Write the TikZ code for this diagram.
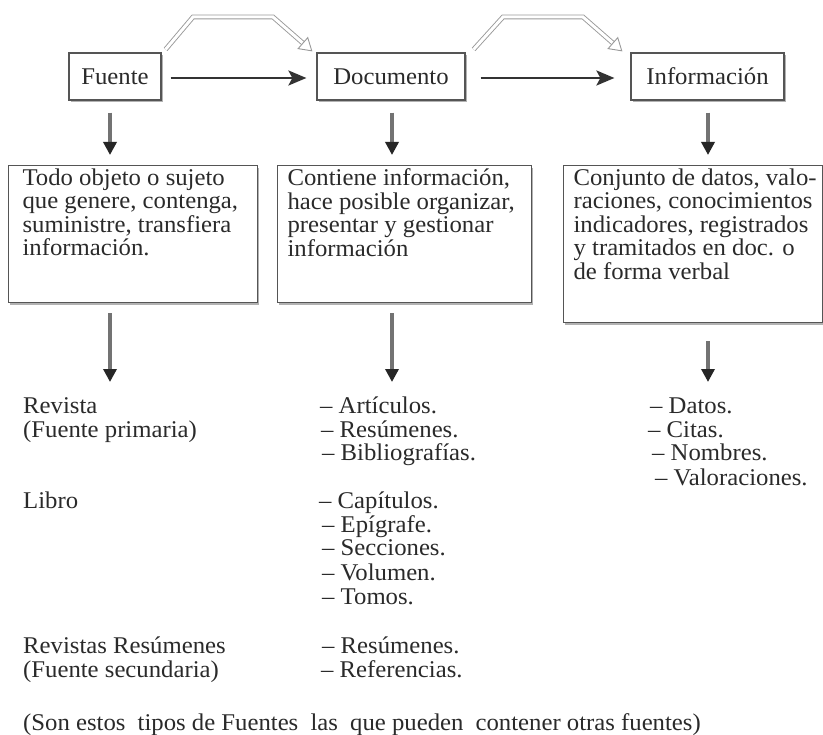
\documentclass[tikz,border=0pt]{standalone}
\usepackage{fontspec}
\setmainfont{Liberation Serif}[FakeStretch=1.03]
\usetikzlibrary{arrows.meta,shadows,calc}
\definecolor{txt}{HTML}{2A2A2A}
\definecolor{boxline}{HTML}{555555}
\tikzset{
  lbl/.style={text=txt,font=\fontsize{24bp}{23.5bp}\selectfont,inner sep=0pt},
  item/.style={lbl,anchor=base west},
  topbox/.style={lbl,draw=boxline,line width=1.2bp,fill=white,minimum height=47bp,
     drop shadow={shadow xshift=1.5bp,shadow yshift=-2bp,fill=black!30,opacity=1}},
  descbox/.style={lbl,draw=boxline,line width=1.2bp,fill=white,anchor=north west,align=left,
     drop shadow={shadow xshift=1.5bp,shadow yshift=-2bp,fill=black!30,opacity=1}},
  harr/.style={draw=black!80,line width=2.5bp,-{Stealth[length=18bp,width=15bp,inset=4bp]}},
  darr/.style={draw=black!55,line width=3.5bp,-{Triangle[length=13bp,width=13bp,color=black!85]}},
  hollow/.style={draw=black!40,double=white,line width=0.9bp,double distance=3bp,
     -{Triangle[open,length=13bp,width=16bp]}}
}
\begin{document}
\begin{tikzpicture}[x=1bp,y=-1bp]
\useasboundingbox[fill=white] (0,0) rectangle (823,735);
% top boxes
\node[topbox,minimum width=92bp] (fuente) at (115,76.5) {Fuente};
\node[topbox,minimum width=148bp] (doc) at (391,76.5) {Documento};
\node[topbox,minimum width=153bp] (info) at (707.5,76.5) {Información};
% horizontal arrows
\draw[harr] ($(fuente.east)+(9,1.5)$) -- ($(doc.west)+(-10,1.5)$);
\draw[harr] ($(doc.east)+(15,1.5)$) -- ($(info.west)+(-16,1.5)$);
% hollow arrows
\coordinate (h1a) at (193,17);
\coordinate (h1b) at (273,17);
\coordinate (h2a) at (503,17);
\coordinate (h2b) at (583,17);
\draw[hollow] ($(fuente.north east)+(4,-3)$) -- (h1a) -- (h1b) -- ($(doc.north west)+(-4,-1)$);
\draw[hollow] ($(doc.north east)+(8,-3)$) -- (h2a) -- (h2b) -- ($(info.north west)+(-8,-1)$);
% description boxes
\node[descbox] (desc1) at (8,165) {\parbox[c][137bp][t]{249bp}{\raggedright\leftskip=14bp\vspace*{3bp}%
Todo objeto o sujeto\\que genere, contenga,\\suministre, transfiera\\información.}};
\node[descbox] (desc2) at (277,165) {\parbox[c][137bp][t]{254bp}{\raggedright\leftskip=10bp\vspace*{3bp}%
Contiene información,\\hace posible organizar,\\presentar y gestionar\\información}};
\node[descbox] (desc3) at (563,165) {\parbox[c][157bp][t]{259bp}{\raggedright\leftskip=10bp\vspace*{3bp}%
Conjunto de datos, valo-\\raciones, conocimientos\\indicadores, registrados\\y tramitados en doc. o\\de forma verbal}};
% arrow ends
\coordinate (e1) at (110,382);
\coordinate (e2) at (392,382);
\coordinate (e3) at (708,382);
\draw[darr] ($(fuente.south -| e1)+(0,12)$) -- ($(desc1.north -| e1)+(0,-10)$);
\draw[darr] ($(doc.south -| e2)+(0,12)$) -- ($(desc2.north -| e2)+(0,-10)$);
\draw[darr] ($(info.south -| e3)+(0,12)$) -- ($(desc3.north -| e3)+(0,-10)$);
\draw[darr] ($(desc1.south -| e1)+(0,10)$) -- (e1);
\draw[darr] ($(desc2.south -| e2)+(0,10)$) -- (e2);
\draw[darr] ($(desc3.south -| e3)+(0,18)$) -- (e3);
% left column
\node[item] (l1) at (23,413) {Revista};
\node[item] (l2) at (23,437) {(Fuente primaria)};
\node[item] (l3) at (23,508) {Libro};
\node[item] (l4) at (23,653) {Revistas Resúmenes};
\node[item] (l5) at (23,677) {(Fuente secundaria)};
% middle column
\node[item] (m1) at (320,413) {– Artículos.};
\node[item] (m2) at (321,437) {– Resúmenes.};
\node[item] (m3) at (322,460) {– Bibliografías.};
\node[item] (m4) at (319,508) {– Capítulos.};
\node[item] (m5) at (322,532) {– Epígrafe.};
\node[item] (m6) at (322,555) {– Secciones.};
\node[item] (m7) at (322,580) {– Volumen.};
\node[item] (m8) at (322,604) {– Tomos.};
\node[item] (m9) at (322,653) {– Resúmenes.};
\node[item] (m10) at (321,677) {– Referencias.};
% right column
\node[item] (r1) at (650,413) {– Datos.};
\node[item] (r2) at (648,437) {– Citas.};
\node[item] (r3) at (652,460) {– Nombres.};
\node[item] (r4) at (655,485) {– Valoraciones.};
% caption
\node[item] (cap) at (23,730) {(Son estos\hspace{6bp} tipos de Fuentes\hspace{6bp} las\hspace{6bp} que pueden\hspace{6bp} contener otras fuentes)};
\end{tikzpicture}
\end{document}
